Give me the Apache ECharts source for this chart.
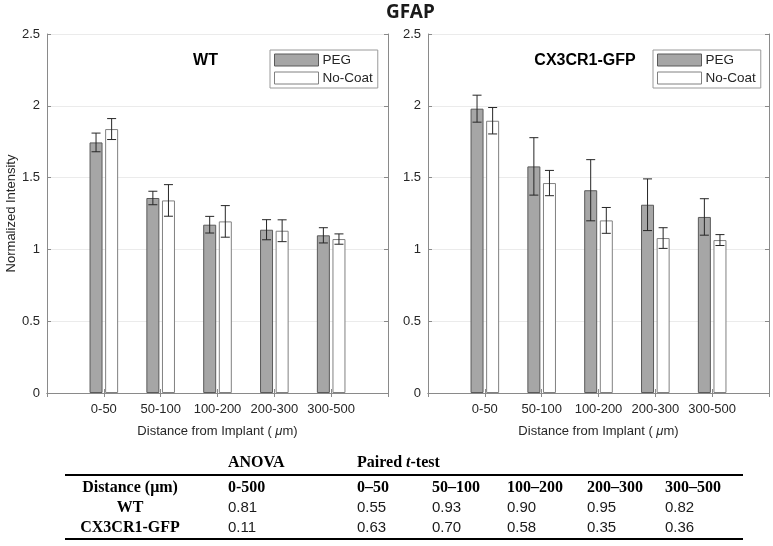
<!DOCTYPE html>
<html>
<head>
<meta charset="utf-8">
<script src="https://cdn.jsdelivr.net/npm/echarts@6/dist/echarts.min.js"></script>
<style>html,body{margin:0;padding:0;background:#fff}#c{width:773px;height:546px}</style>
</head>
<body>
<div id="c"></div>
<script>
// ---- data ----
const categories = ['0-50', '50-100', '100-200', '200-300', '300-500'];
const wtPeg = [1.745, 1.358, 1.172, 1.137, 1.098];
const wtPegErr = [0.065, 0.047, 0.058, 0.070, 0.053];
const wtNoCoat = [1.838, 1.341, 1.195, 1.130, 1.072];
const wtNoCoatErr = [0.073, 0.110, 0.110, 0.076, 0.036];
const cxPeg = [1.980, 1.578, 1.412, 1.311, 1.226];
const cxPegErr = [0.094, 0.200, 0.213, 0.180, 0.127];
const cxNoCoat = [1.896, 1.462, 1.202, 1.079, 1.065];
const cxNoCoatErr = [0.092, 0.088, 0.090, 0.072, 0.038];
const panelTitles = ['WT', 'CX3CR1-GFP'];
const seriesNames = ['PEG', 'No-Coat'];
const yMin = 0, yMax = 2.5, yStep = 0.5;

const tableColumns = ['0-500', '0\u201350', '50\u2013100', '100\u2013200', '200\u2013300', '300\u2013500'];
const tableRows = ['WT', 'CX3CR1-GFP'];
const pWT = ['0.81', '0.55', '0.93', '0.90', '0.95', '0.82'];
const pCX = ['0.11', '0.63', '0.70', '0.58', '0.35', '0.36'];

// ---- styles ----
const SANS = 'Liberation Sans';
const SERIF = 'Liberation Serif';
const axisCol = '#8a8a8a';
const txtCol = '#262626';
const pegFill = '#a6a6a6', pegEdge = '#5a5a5a';
const ncFill = '#ffffff', ncEdge = '#808080';
const errCol = '#262626';
const BAR_W = 13, BAR_GAP = 0.2;
const OFF = BAR_W * (1 + BAR_GAP) / 2;

const padded = ['', ...categories, ''];
const pad = arr => ['-', ...arr, '-'];

const chart = echarts.init(document.getElementById('c'), null, {renderer: 'canvas'});

const grids = [
  {left: 47, top: 34, right: 385, bottom: 153},
  {left: 428, top: 34, right: 4, bottom: 153}
];

const xAxes = [], yAxes = [], series = [];
grids.forEach((g, gi) => {
  xAxes.push({
    type: 'category', gridIndex: gi, data: padded, boundaryGap: false, position: 'bottom',
    axisLine: {show: true, lineStyle: {color: axisCol}},
    axisTick: {show: true, inside: true, length: 4, interval: 0, lineStyle: {color: axisCol}},
    axisLabel: {interval: 0, color: txtCol, fontFamily: SANS, fontSize: 13, margin: 10},
    splitLine: {show: false},
    name: 'Distance from Implant ( {i|\u03bc}m)',
    nameLocation: 'middle', nameGap: 32,
    nameTextStyle: {color: txtCol, fontFamily: SANS, fontSize: 13,
      rich: {i: {fontStyle: 'italic', fontFamily: SANS, fontSize: 13, color: txtCol}}}
  });
  xAxes.push({
    type: 'category', gridIndex: gi, data: padded, boundaryGap: false, position: 'top',
    axisLine: {show: true, lineStyle: {color: axisCol}},
    axisTick: {show: true, inside: true, length: 4, interval: 0, lineStyle: {color: axisCol}},
    axisLabel: {show: false}, splitLine: {show: false}
  });
  yAxes.push({
    type: 'value', gridIndex: gi, min: yMin, max: yMax, interval: yStep, position: 'left',
    axisLine: {show: true, lineStyle: {color: axisCol}},
    axisTick: {show: true, inside: true, length: 4, lineStyle: {color: axisCol}},
    axisLabel: {color: txtCol, fontFamily: SANS, fontSize: 13, margin: 7},
    splitLine: {show: true, lineStyle: {color: '#ebebeb', width: 1}},
    name: gi === 0 ? 'Normalized Intensity' : '',
    nameLocation: 'middle', nameGap: 29,
    nameTextStyle: {color: txtCol, fontFamily: SANS, fontSize: 13}
  });
  yAxes.push({
    type: 'value', gridIndex: gi, min: yMin, max: yMax, interval: yStep, position: 'right',
    axisLine: {show: true, lineStyle: {color: axisCol}},
    axisTick: {show: true, inside: true, length: 4, lineStyle: {color: axisCol}},
    axisLabel: {show: false}, splitLine: {show: false}
  });
});

function errSeries(gi, vals, errs, sign) {
  return {
    type: 'custom', xAxisIndex: gi * 2, yAxisIndex: gi * 2, z: 5, silent: true,
    data: vals.map((v, i) => [i + 1, v - errs[i], v + errs[i]]),
    encode: {x: 0, y: [1, 2]},
    renderItem: function (params, api) {
      const lo = api.coord([api.value(0), api.value(1)]);
      const hi = api.coord([api.value(0), api.value(2)]);
      const x = lo[0] + sign * OFF;
      const cw = 4.5;
      const st = {stroke: errCol, lineWidth: 1};
      return {type: 'group', children: [
        {type: 'line', shape: {x1: x, y1: lo[1], x2: x, y2: hi[1]}, style: st},
        {type: 'line', shape: {x1: x - cw, y1: lo[1], x2: x + cw, y2: lo[1]}, style: st},
        {type: 'line', shape: {x1: x - cw, y1: hi[1], x2: x + cw, y2: hi[1]}, style: st}
      ]};
    }
  };
}

const panels = [
  {peg: wtPeg, pegErr: wtPegErr, nc: wtNoCoat, ncErr: wtNoCoatErr},
  {peg: cxPeg, pegErr: cxPegErr, nc: cxNoCoat, ncErr: cxNoCoatErr}
];
panels.forEach((p, gi) => {
  series.push({
    name: seriesNames[0], type: 'bar', xAxisIndex: gi * 2, yAxisIndex: gi * 2,
    data: pad(p.peg), barWidth: BAR_W, barGap: (BAR_GAP * 100) + '%',
    itemStyle: {color: pegFill, borderColor: pegEdge, borderWidth: 1}
  });
  series.push({
    name: seriesNames[1], type: 'bar', xAxisIndex: gi * 2, yAxisIndex: gi * 2,
    data: pad(p.nc), barWidth: BAR_W, barGap: (BAR_GAP * 100) + '%',
    itemStyle: {color: ncFill, borderColor: ncEdge, borderWidth: 1}
  });
  series.push(errSeries(gi, p.peg, p.pegErr, -1));
  series.push(errSeries(gi, p.nc, p.ncErr, 1));
});

const legendBase = {
  top: 50, orient: 'vertical', itemWidth: 44, itemHeight: 12, itemGap: 4,
  padding: [3, 5, 3, 4], borderColor: '#9a9a9a', borderWidth: 1, backgroundColor: '#fff',
  selectedMode: false, itemStyle: {borderWidth: 1},
  textStyle: {fontSize: 13.5, color: txtCol, fontFamily: SANS, padding: [0, 0, 0, -1]},
  data: [
    {name: seriesNames[0], icon: 'rect', itemStyle: {color: pegFill, borderColor: pegEdge, borderWidth: 1}},
    {name: seriesNames[1], icon: 'rect', itemStyle: {color: ncFill, borderColor: ncEdge, borderWidth: 1}}
  ]
};
const legends = [
  Object.assign({}, legendBase, {left: 270}),
  Object.assign({}, legendBase, {left: 653})
];

// ---- graphics: titles and table ----
const graphics = [];
graphics.push({type: 'text', left: 386, top: 3,
  style: {text: 'GFAP', font: 'bold 19px "Noto Sans"', fill: '#1a1a1a'}});
graphics.push({type: 'text', x: 205.5, y: 61,
  style: {text: panelTitles[0], font: 'bold 16px ' + SANS, fill: '#000', align: 'center', verticalAlign: 'middle'}});
graphics.push({type: 'text', x: 585, y: 61,
  style: {text: panelTitles[1], font: 'bold 16px ' + SANS, fill: '#000', align: 'center', verticalAlign: 'middle'}});

const colX = [228, 357, 432, 507, 587, 665];
const rowLabelX = 130;
const yGroup = 463, yLine1 = 475, yHead = 488, yRows = [508, 528], yLine2 = 539;
const headFont = 'bold 16px ' + SERIF;
const valFont = '15px ' + SANS;

graphics.push({type: 'text', x: colX[0], y: yGroup,
  style: {text: 'ANOVA', font: headFont, fill: '#000', verticalAlign: 'middle'}});
graphics.push({type: 'text', x: colX[1], y: yGroup,
  style: {text: '{b|Paired }{i|t}{b|-test}', verticalAlign: 'middle',
    rich: {b: {font: headFont, fill: '#000'}, i: {font: 'bold italic 16px ' + SERIF, fill: '#000'}}}});
graphics.push({type: 'line', shape: {x1: 65, y1: yLine1, x2: 743, y2: yLine1}, style: {stroke: '#000', lineWidth: 2}});
graphics.push({type: 'line', shape: {x1: 65, y1: yLine2, x2: 743, y2: yLine2}, style: {stroke: '#000', lineWidth: 2}});
graphics.push({type: 'text', x: rowLabelX, y: yHead,
  style: {text: 'Distance (\u03bcm)', font: headFont, fill: '#000', align: 'center', verticalAlign: 'middle'}});
tableColumns.forEach((c, i) => {
  graphics.push({type: 'text', x: colX[i], y: yHead,
    style: {text: c, font: headFont, fill: '#000', verticalAlign: 'middle'}});
});
[pWT, pCX].forEach((vals, r) => {
  graphics.push({type: 'text', x: rowLabelX, y: yRows[r],
    style: {text: tableRows[r], font: headFont, fill: '#000', align: 'center', verticalAlign: 'middle'}});
  vals.forEach((v, i) => {
    graphics.push({type: 'text', x: colX[i], y: yRows[r],
      style: {text: v, font: valFont, fill: '#1a1a1a', verticalAlign: 'middle'}});
  });
});

chart.setOption({
  animation: false,
  backgroundColor: '#fff',
  grid: grids,
  xAxis: xAxes,
  yAxis: yAxes,
  legend: legends,
  series: series,
  graphic: graphics
});
</script>
</body>
</html>
